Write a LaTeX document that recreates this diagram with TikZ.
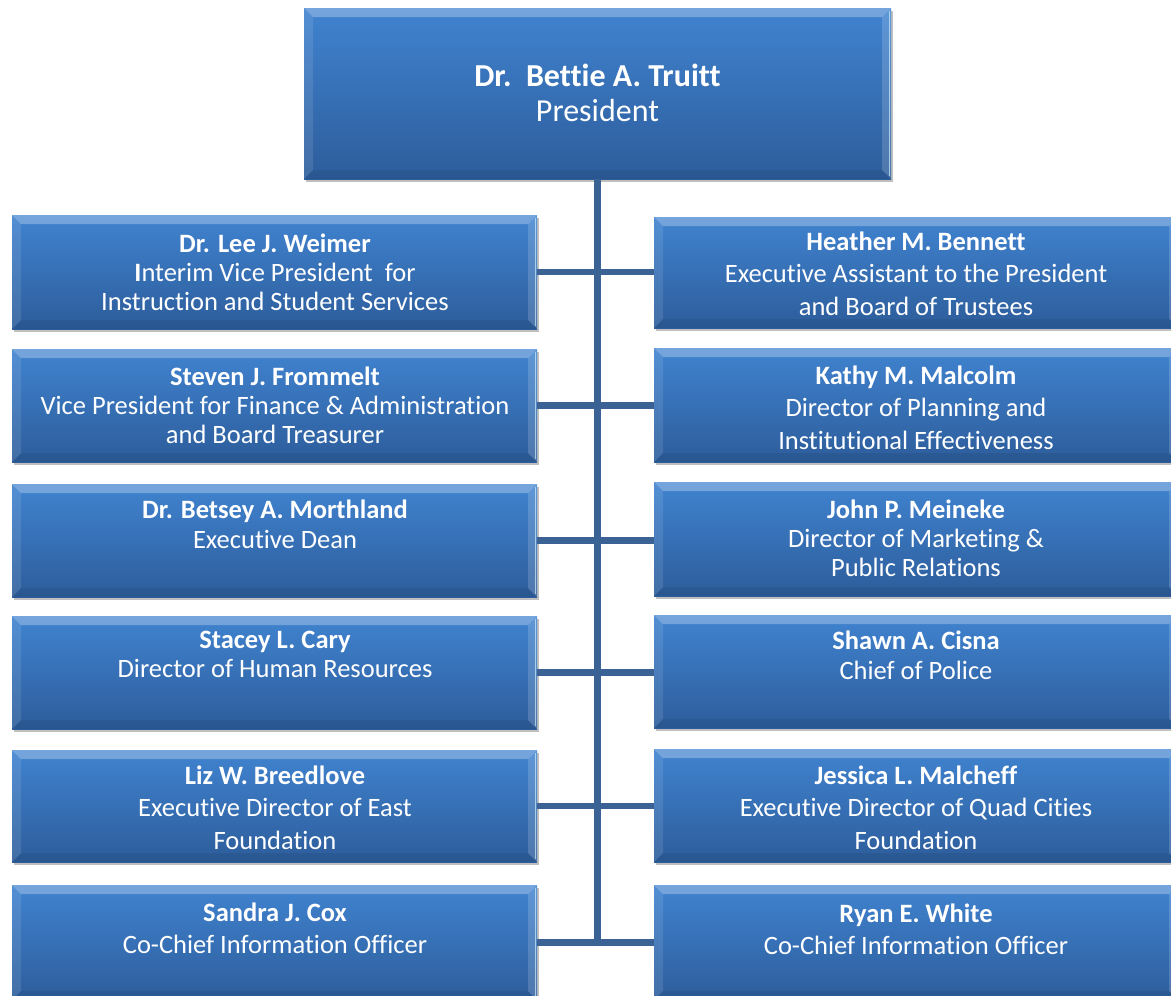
\documentclass[tikz,border=0pt]{standalone}
\usepackage{fontspec}
\setmainfont{Carlito}[Ligatures=NoCommon]
\usetikzlibrary{shadows,calc}

\definecolor{boxtop}{RGB}{64,131,208}
\definecolor{boxbot}{RGB}{45,93,155}
\definecolor{linkblue}{RGB}{58,98,148}

\newcommand\ppbb{path picture bounding box}
\tikzset{
  orgbox/.style={rectangle, draw=none, inner sep=0pt,
    top color=boxtop, bottom color=boxbot,
    drop shadow={shadow xshift=2pt, shadow yshift=-3pt, opacity=0.25, fill=black},
    path picture={
      % top bevel
      \fill[white, opacity=0.28] (\ppbb.north west) -- (\ppbb.north east)
        -- ([xshift=-9pt,yshift=-9pt]\ppbb.north east)
        -- ([xshift=9pt,yshift=-9pt]\ppbb.north west) -- cycle;
      % left bevel
      \fill[white, opacity=0.10] (\ppbb.north west) -- ([xshift=9pt,yshift=-9pt]\ppbb.north west)
        -- ([xshift=9pt,yshift=9pt]\ppbb.south west) -- (\ppbb.south west) -- cycle;
      % right bevel
      \fill[white, opacity=0.16] (\ppbb.north east) -- ([xshift=-9pt,yshift=-9pt]\ppbb.north east)
        -- ([xshift=-9pt,yshift=9pt]\ppbb.south east) -- (\ppbb.south east) -- cycle;
      \fill[white!80!cyan, opacity=0.7] ([xshift=-2.5pt,yshift=-3pt]\ppbb.north east)
        rectangle ([xshift=-0.8pt,yshift=3pt]\ppbb.south east);
      % bottom bevel
      \fill[black, opacity=0.07] (\ppbb.south west) -- (\ppbb.south east)
        -- ([xshift=-9pt,yshift=9pt]\ppbb.south east)
        -- ([xshift=9pt,yshift=9pt]\ppbb.south west) -- cycle;
    }},
  orgtext/.style={anchor=north, align=center, text=white, inner sep=0pt,
    font=\fontsize{26.5}{#1}\selectfont},
  link/.style={draw=linkblue, line width=6.5pt}
}

% \orgunit{name}{x1}{y1}{x2}{y2}
\newcommand\orgunit[5]{%
  \node[orgbox, minimum width={(#4-#2)*1pt}, minimum height={(#5-#3)*1pt}]
    (#1) at ({(#2+#4)/2},{(#3+#5)/2}) {};}

\begin{document}
\begin{tikzpicture}[x=1pt,y=-1pt]
\useasboundingbox (0,0) rectangle (1171,996);
\clip (0,0) rectangle (1171,996);

% boxes
\orgunit{P}{304}{8}{891}{179}
\orgunit{L1}{12}{215}{537}{329}
\orgunit{R1}{654}{217}{1178}{328}
\orgunit{L2}{12}{349}{537}{462}
\orgunit{R2}{654}{348}{1178}{462}
\orgunit{L3}{12}{484}{537}{597}
\orgunit{R3}{654}{482}{1178}{596}
\orgunit{L4}{12}{616}{537}{729}
\orgunit{R4}{654}{615}{1178}{728}
\orgunit{L5}{12}{750}{537}{862}
\orgunit{R5}{654}{749}{1178}{862}
\orgunit{L6}{12}{885}{537}{1000}
\orgunit{R6}{654}{885}{1178}{1000}

% connectors
\coordinate (trunkend) at (P.south |- L6.east);
\draw[link] (P.south) -- ([yshift=-3pt]trunkend);
\foreach \r in {1,...,6}{
  \draw[link] (L\r.east) -- (L\r.east -| R\r.west);
}

% texts
\node[anchor=north, align=center, text=white, inner sep=0pt,
      font=\fontsize{32}{35}\selectfont] (Pt) at (597.5,63.4)
  {\textbf{Dr.\ \ Bettie A. Truitt}\\President};

\node[orgtext=29] (L1t) at (275,233.4)
  {\textbf{Dr. Lee J. Weimer}\\\textbf{I}nterim Vice President\ \ for\\Instruction and Student Services};
\node[orgtext=32.5] (R1t) at (916,231.4)
  {\textbf{Heather M. Bennett}\\Executive Assistant to the President\\and Board of Trustees};
\node[orgtext=29] (L2t) at (275,366.4)
  {\textbf{Steven J. Frommelt}\\Vice President for Finance \& Administration\\and Board Treasurer};
\node[orgtext=32.5] (R2t) at (916,365.4)
  {\textbf{Kathy M. Malcolm}\\Director of Planning and\\Institutional Effectiveness};
\node[orgtext=30] (L3t) at (275,499.4)
  {\textbf{Dr. Betsey A. Morthland}\\Executive Dean};
\node[orgtext=29] (R3t) at (916,499.4)
  {\textbf{John P. Meineke}\\Director of Marketing \&\\Public Relations};
\node[orgtext=29] (L4t) at (275,631.4)
  {\textbf{Stacey L. Cary}\\Director of Human Resources};
\node[orgtext=30] (R4t) at (916,630.4)
  {\textbf{Shawn A. Cisna}\\Chief of Police};
\node[orgtext=32.5] (L5t) at (275,765.4)
  {\textbf{Liz W. Breedlove}\\Executive Director of East\\Foundation};
\node[orgtext=32.5] (R5t) at (916,765.4)
  {\textbf{Jessica L. Malcheff}\\Executive Director of Quad Cities\\Foundation};
\node[orgtext=32] (L6t) at (275,902.4)
  {\textbf{Sandra J. Cox}\\Co-Chief Information Officer};
\node[orgtext=32] (R6t) at (916,903.4)
  {\textbf{Ryan E. White}\\Co-Chief Information Officer};
\end{tikzpicture}
\end{document}
